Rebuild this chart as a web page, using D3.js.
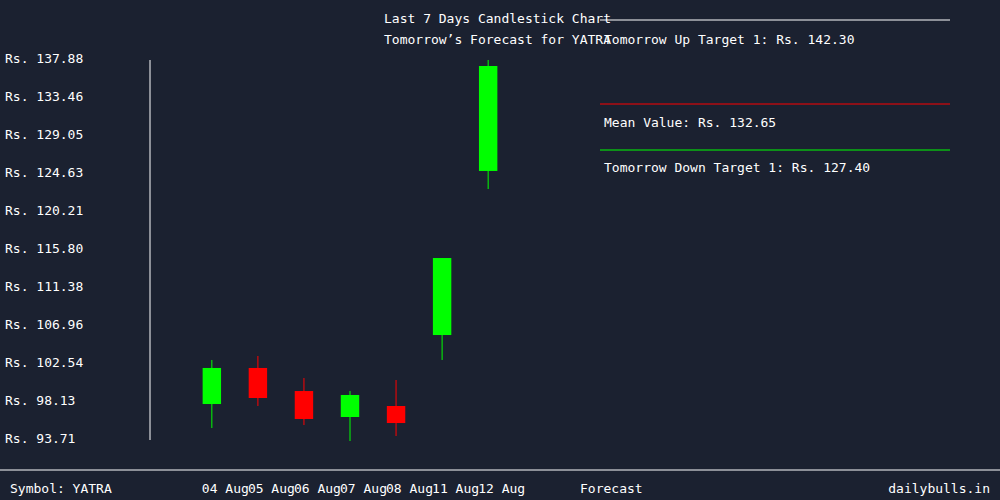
<!DOCTYPE html>
<html><head><meta charset="utf-8">
<script src="https://cdn.jsdelivr.net/npm/d3@7"></script>
<style>body{margin:0;background:#1b2130}svg{display:block}text{font-family:"DejaVu Sans Mono",monospace;font-size:13px;fill:#fff}</style>
</head><body><svg id="c" width="1000" height="500"></svg>
<script>
const dates = ['04 Aug','05 Aug','06 Aug','07 Aug','08 Aug','11 Aug','12 Aug'];
const opens = [97.66,101.85,99.17,96.15,97.43,105.68,124.75];
const closes = [101.85,98.36,95.92,98.71,95.45,114.63,136.95];
const highs = [102.78,103.24,100.68,99.17,100.45,114.63,137.65];
const lows = [94.87,97.43,95.22,93.36,93.94,102.78,122.65];
const yTicks = [93.71,98.13,102.54,106.96,111.38,115.80,120.21,124.63,129.05,133.46,137.88];

const svg = d3.select('#c');
svg.append('rect').attr('width',1000).attr('height',500).attr('fill','#1b2130');
const y = d3.scaleLinear().domain([93.71,137.88]).range([438,58]);
const x = d3.scaleBand().domain(dates).range([175,525]).padding(0.6);

svg.append('line').attr('x1',150).attr('x2',150).attr('y1',60).attr('y2',440).attr('stroke','#fff');
svg.selectAll('.yt').data(yTicks).enter().append('text')
  .attr('x',5).attr('y',d=>y(d)+5).text(d=>'Rs. '+d.toFixed(2));

dates.forEach((d,i)=>{
  const up = closes[i]>=opens[i], col = up?'#00ff00':'#ff0000';
  const cx = x(d)+x.bandwidth()/2;
  svg.append('line').attr('x1',cx).attr('x2',cx).attr('y1',y(highs[i])).attr('y2',y(lows[i])).attr('stroke',col);
  svg.append('rect').attr('x',x(d)).attr('width',x.bandwidth())
    .attr('y',y(Math.max(opens[i],closes[i]))).attr('height',Math.abs(y(opens[i])-y(closes[i]))).attr('fill',col);
  svg.append('text').attr('x',x(d)+x.bandwidth()/2-10).attr('y',493).text(d);
});

svg.append('text').attr('x',384).attr('y',23).text('Last 7 Days Candlestick Chart');
svg.append('text').attr('x',384).attr('y',44).text('Tomorrow\u2019s Forecast for YATRA');
svg.append('line').attr('x1',600).attr('x2',950).attr('y1',20).attr('y2',20).attr('stroke','#fff');
svg.append('text').attr('x',604).attr('y',44).text('Tomorrow Up Target 1: Rs. 142.30');
svg.append('line').attr('x1',600).attr('x2',950).attr('y1',104).attr('y2',104).attr('stroke','#ff0000');
svg.append('text').attr('x',604).attr('y',127).text('Mean Value: Rs. 132.65');
svg.append('line').attr('x1',600).attr('x2',950).attr('y1',150).attr('y2',150).attr('stroke','#00ff00');
svg.append('text').attr('x',604).attr('y',172).text('Tomorrow Down Target 1: Rs. 127.40');

svg.append('line').attr('x1',0).attr('x2',1000).attr('y1',470).attr('y2',470).attr('stroke','#fff');
svg.append('text').attr('x',10).attr('y',493).text('Symbol: YATRA');
svg.append('text').attr('x',580).attr('y',493).text('Forecast');
svg.append('text').attr('x',990).attr('y',493).attr('text-anchor','end').text('dailybulls.in');
</script></body></html>
